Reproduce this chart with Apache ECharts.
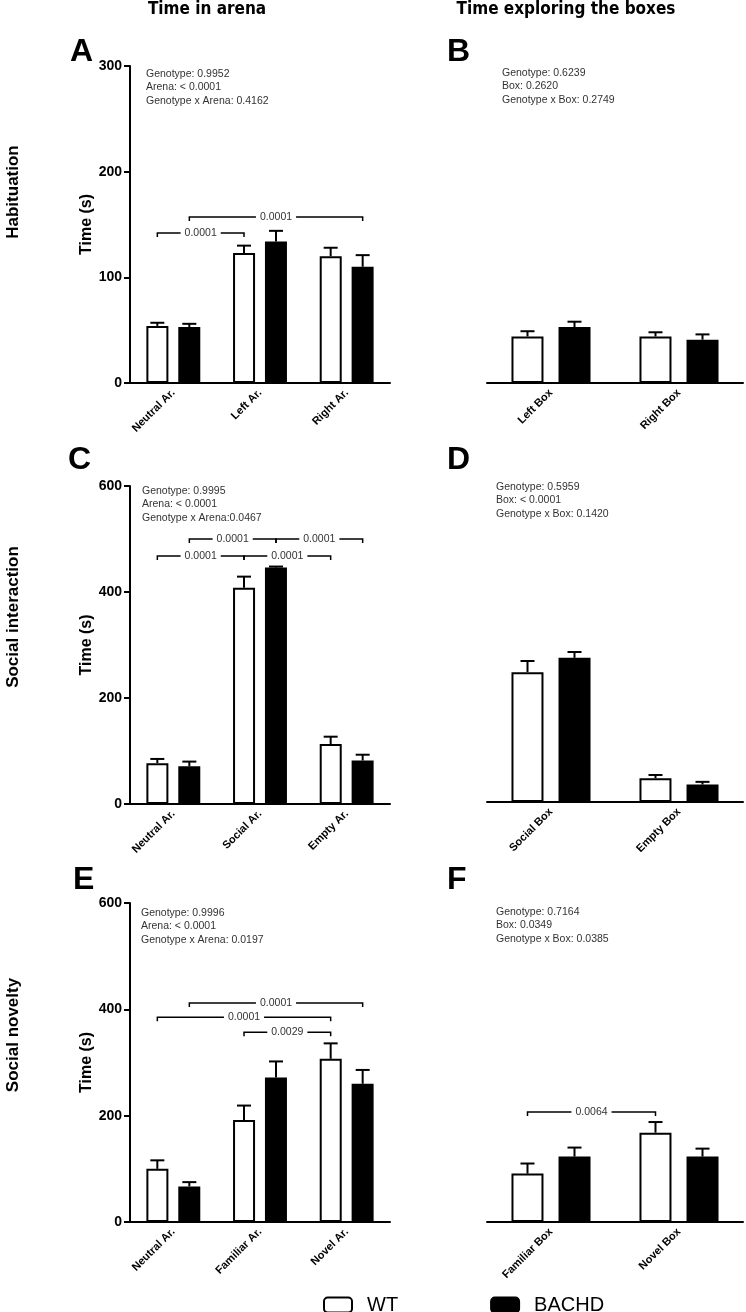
<!DOCTYPE html>
<html><head><meta charset="utf-8">
<script src="https://cdn.jsdelivr.net/npm/echarts@6/dist/echarts.min.js"></script>
<style>html,body{margin:0;padding:0;background:#fff}#c{width:746px;height:1312px}</style>
</head><body><div id="c"></div><script>
// ---------- DATA ----------
const seriesNames = ['WT', 'BACHD'];

const catsA = ['Neutral Ar.', 'Left Ar.', 'Right Ar.'];
const wtA = [54, 123, 120];      const wtErrA = [3, 7, 8];
const bachdA = [53, 134, 110];   const bachdErrA = [3, 10, 11];
const statsA = ['Genotype: 0.9952', 'Arena: < 0.0001', 'Genotype x Arena: 0.4162'];
const bracketsA = [[0, 142, 1, -1, -1], [0, 157, 2, 1, 1]];
const bracketLabelsA = ['0.0001', '0.0001'];

const catsB = ['Left Box', 'Right Box'];
const wtB = [44, 44];            const wtErrB = [5, 4];
const bachdB = [53, 41];         const bachdErrB = [5, 5];
const statsB = ['Genotype: 0.6239', 'Box: 0.2620', 'Genotype x Box: 0.2749'];
const bracketsB = [];
const bracketLabelsB = [];

const catsC = ['Neutral Ar.', 'Social Ar.', 'Empty Ar.'];
const wtC = [77, 408, 113];      const wtErrC = [8, 21, 14];
const bachdC = [71, 446, 82];    const bachdErrC = [9, 2, 11];
const statsC = ['Genotype: 0.9995', 'Arena: < 0.0001', 'Genotype x Arena:0.0467'];
const bracketsC = [[0, 468, 1, -1, -1], [1, 468, 2, -1, -1], [0, 500, 1, 1, 1], [1, 500, 2, 1, 1]];
const bracketLabelsC = ['0.0001', '0.0001', '0.0001', '0.0001'];

const catsD = ['Social Box', 'Empty Box'];
const wtD = [245, 45];           const wtErrD = [21, 6];
const bachdD = [272, 33];        const bachdErrD = [11, 5];
const statsD = ['Genotype: 0.5959', 'Box: < 0.0001', 'Genotype x Box: 0.1420'];
const bracketsD = [];
const bracketLabelsD = [];

const catsE = ['Neutral Ar.', 'Familiar Ar.', 'Novel Ar.'];
const wtE = [100, 192, 307];     const wtErrE = [16, 27, 29];
const bachdE = [67, 272, 260];   const bachdErrE = [8, 30, 26];
const statsE = ['Genotype: 0.9996', 'Arena: < 0.0001', 'Genotype x Arena: 0.0197'];
const bracketsE = [[0, 412, 2, 1, 1], [0, 385, 2, -1, -1], [1, 357, 2, -1, -1]];
const bracketLabelsE = ['0.0001', '0.0001', '0.0029'];

const catsF = ['Familiar Box', 'Novel Box'];
const wtF = [91, 168];           const wtErrF = [19, 20];
const bachdF = [123, 123];       const bachdErrF = [17, 15];
const statsF = ['Genotype: 0.7164', 'Box: 0.0349', 'Genotype x Box: 0.0385'];
const bracketsF = [[0, 207, 1, -1, -1]];
const bracketLabelsF = ['0.0064'];

// ---------- LAYOUT / STYLE ----------
const FONT = '"Liberation Sans", Arial, sans-serif';
const panels = [
  {letter:'A', cats:catsA, wt:wtA, wtE:wtErrA, bd:bachdA, bdE:bachdErrA, stats:statsA, br:bracketsA, brL:bracketLabelsA,
   grid:{left:130, top:66, width:260, height:317}, yMax:300, yInt:100, showY:true, barW:22, gap:10,
   letterPos:[70, 36], statsPos:[146, 67]},
  {letter:'B', cats:catsB, wt:wtB, wtE:wtErrB, bd:bachdB, bdE:bachdErrB, stats:statsB, br:bracketsB, brL:bracketLabelsB,
   grid:{left:487, top:66, width:256, height:317}, yMax:300, yInt:100, showY:false, barW:32, gap:15,
   letterPos:[447, 36], statsPos:[502, 66]},
  {letter:'C', cats:catsC, wt:wtC, wtE:wtErrC, bd:bachdC, bdE:bachdErrC, stats:statsC, br:bracketsC, brL:bracketLabelsC,
   grid:{left:130, top:486, width:260, height:318}, yMax:600, yInt:200, showY:true, barW:22, gap:10,
   letterPos:[68, 444], statsPos:[142, 484]},
  {letter:'D', cats:catsD, wt:wtD, wtE:wtErrD, bd:bachdD, bdE:bachdErrD, stats:statsD, br:bracketsD, brL:bracketLabelsD,
   grid:{left:487, top:484, width:256, height:318}, yMax:600, yInt:200, showY:false, barW:32, gap:15,
   letterPos:[447, 444], statsPos:[496, 480]},
  {letter:'E', cats:catsE, wt:wtE, wtE:wtErrE, bd:bachdE, bdE:bachdErrE, stats:statsE, br:bracketsE, brL:bracketLabelsE,
   grid:{left:130, top:903, width:260, height:319}, yMax:600, yInt:200, showY:true, barW:22, gap:10,
   letterPos:[73, 864], statsPos:[141, 906]},
  {letter:'F', cats:catsF, wt:wtF, wtE:wtErrF, bd:bachdF, bdE:bachdErrF, stats:statsF, br:bracketsF, brL:bracketLabelsF,
   grid:{left:487, top:903, width:256, height:319}, yMax:600, yInt:200, showY:false, barW:32, gap:15,
   letterPos:[447, 864], statsPos:[496, 905]}
];

function errorRenderer(offset, capHalf) {
  return function (params, api) {
    const c = api.value(0), v = api.value(1), e = api.value(2);
    const p0 = api.coord([c, v]);
    const p1 = api.coord([c, v + e]);
    const x = p0[0] + offset;
    const st = {stroke:'#000', lineWidth:2};
    return {type:'group', children:[
      {type:'line', shape:{x1:x, y1:p0[1], x2:x, y2:p1[1]}, style:st},
      {type:'line', shape:{x1:x - capHalf, y1:p1[1], x2:x + capHalf, y2:p1[1]}, style:st}
    ]};
  };
}
function bracketRenderer(offset, labels) {
  return function (params, api) {
    const c1 = api.value(0), y = api.value(1), c2 = api.value(2), s1 = api.value(3), s2 = api.value(4);
    const a = api.coord([c1, y]), b = api.coord([c2, y]);
    const x1 = a[0] + s1 * offset, x2 = b[0] + s2 * offset, py = a[1];
    return {type:'group', children:[
      {type:'polyline', shape:{points:[[x1, py + 4], [x1, py], [x2, py], [x2, py + 4]]},
       style:{stroke:'#000', lineWidth:1.5, fill:null}},
      {type:'text', x:(x1 + x2) / 2, y:py, z2:10,
       style:{text:labels[params.dataIndex], font:'10.5px ' + FONT, fill:'#333', align:'center',
              verticalAlign:'middle', backgroundColor:'#fff', padding:[1, 4]}}
    ]};
  };
}

const grids = [], xAxes = [], yAxes = [], series = [], titles = [];
panels.forEach((p, i) => {
  grids.push(Object.assign({containLabel:false}, p.grid));
  xAxes.push({type:'category', gridIndex:i, data:p.cats,
    axisLine:{lineStyle:{color:'#000', width:2}},
    axisTick:{alignWithLabel:true, length:5, lineStyle:{color:'#000', width:2}},
    axisLabel:{rotate:45, interval:0, fontWeight:'bold', fontSize:11, color:'#000', margin:8, fontFamily:FONT}});
  yAxes.push({type:'value', gridIndex:i, min:0, max:p.yMax, interval:p.yInt, show:p.showY,
    splitLine:{show:false},
    axisLine:{show:true, lineStyle:{color:'#000', width:2}},
    axisTick:{show:true, length:6, lineStyle:{color:'#000', width:2}},
    axisLabel:{fontWeight:'bold', fontSize:14, color:'#000', margin:8, fontFamily:FONT},
    name:'Time (s)', nameLocation:'middle', nameGap:24,
    nameTextStyle:{fontWeight:'bold', fontSize:16, color:'#000', fontFamily:FONT}});
  const off = (p.barW + p.gap) / 2;
  const gapPct = Math.round(p.gap / p.barW * 100) + '%';
  series.push({type:'bar', name:seriesNames[0], xAxisIndex:i, yAxisIndex:i, data:p.wt, barWidth:p.barW, barGap:gapPct,
    itemStyle:{color:'#fff', borderColor:'#000', borderWidth:2}, silent:true});
  series.push({type:'bar', name:seriesNames[1], xAxisIndex:i, yAxisIndex:i, data:p.bd, barWidth:p.barW, barGap:gapPct,
    itemStyle:{color:'#000', borderColor:'#000', borderWidth:2}, silent:true});
  series.push({type:'custom', xAxisIndex:i, yAxisIndex:i, z:1, clip:false, silent:true,
    renderItem:errorRenderer(-off, 7), data:p.wt.map((v, k) => [k, v, p.wtE[k]])});
  series.push({type:'custom', xAxisIndex:i, yAxisIndex:i, z:1, clip:false, silent:true,
    renderItem:errorRenderer(off, 7), data:p.bd.map((v, k) => [k, v, p.bdE[k]])});
  if (p.br.length) {
    series.push({type:'custom', xAxisIndex:i, yAxisIndex:i, z:5, clip:false, silent:true,
      renderItem:bracketRenderer(off, p.brL), data:p.br});
  }
  titles.push({text:p.letter, left:p.letterPos[0], top:p.letterPos[1], padding:0,
    textStyle:{fontSize:32, fontWeight:'bold', color:'#000', fontFamily:FONT}});
  titles.push({text:p.stats.join('\n'), left:p.statsPos[0], top:p.statsPos[1], padding:0,
    textStyle:{fontSize:10.5, fontWeight:'normal', color:'#333', lineHeight:13.5, fontFamily:FONT}});
});
const TITLE_FONT = '"Liberation Sans Narrow", "DejaVu Sans Condensed", "Liberation Sans", sans-serif';
titles.push({text:'Time in arena', left:207, top:1, textAlign:'center', padding:0,
  textStyle:{fontSize:17, fontWeight:'bold', color:'#000', fontFamily:TITLE_FONT}});
titles.push({text:'Time exploring the boxes', left:566, top:1, textAlign:'center', padding:0,
  textStyle:{fontSize:17, fontWeight:'bold', color:'#000', fontFamily:TITLE_FONT}});

const rowLabels = [['Habituation', 192], ['Social interaction', 617], ['Social novelty', 1035]];

const option = {
  animation:false,
  backgroundColor:'#fff',
  title:titles,
  grid:grids, xAxis:xAxes, yAxis:yAxes, series:series,
  legend:{left:323, top:1295, padding:0, itemWidth:28, itemHeight:15, itemGap:92, icon:'roundRect', selectedMode:false,
    textStyle:{fontSize:20, color:'#000', fontFamily:FONT, padding:[0, 0, 0, 10]},
    data:[
      {name:'WT', itemStyle:{color:'#fff', borderColor:'#000', borderWidth:2}},
      {name:'BACHD', itemStyle:{color:'#000', borderColor:'#000', borderWidth:2}}
    ]},
  graphic:rowLabels.map(r => ({type:'text', x:13, y:r[1], rotation:Math.PI / 2,
    style:{text:r[0], font:'bold 17px ' + FONT, fill:'#000', align:'center', verticalAlign:'middle'}}))
};
const chart = echarts.init(document.getElementById('c'), null, {renderer:'canvas'});
chart.setOption(option);
</script></body></html>
